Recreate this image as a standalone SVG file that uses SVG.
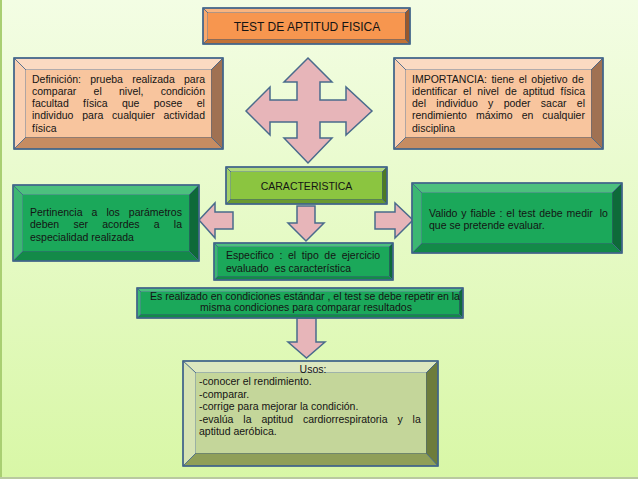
<svg xmlns="http://www.w3.org/2000/svg" width="638" height="479" viewBox="0 0 638 479">
<defs>
<linearGradient id="bg" x1="0" y1="0" x2="0" y2="1">
<stop offset="0" stop-color="#f3fde4"/>
<stop offset="1" stop-color="#d8f7a6"/>
</linearGradient>
</defs>
<style>
.o{stroke:#41648a;stroke-width:1.6;fill:none}
.b{stroke:#41648a;stroke-width:0.8}
.t{font-family:"Liberation Sans",Arial,sans-serif;font-size:10.5px;fill:#141414}
.arr{fill:#e7b5b9;stroke:#4a6b8c;stroke-width:1.5;stroke-linejoin:miter}
.or .f{fill:#f7964f}.or .tp{fill:#f9b47f}.or .lf{fill:#f8a86c}.or .rt{fill:#98582c}.or .bt{fill:#c27236}
.pe .f{fill:#f8c59e}.pe .tp{fill:#fbdac2}.pe .lf{fill:#fad0b2}.pe .rt{fill:#a07152}.pe .bt{fill:#c68c62}
.gr .f{fill:#1ba85a}.gr .tp{fill:#4cc07e}.gr .lf{fill:#3cb772}.gr .rt{fill:#0e6a39}.gr .bt{fill:#138a48}
.lg .f{fill:#8bc540}.lg .tp{fill:#b2d97c}.lg .lf{fill:#a3d166}.lg .rt{fill:#4e7a24}.lg .bt{fill:#6a9a30}
.ol .f{fill:#c4d69a}.ol .tp{fill:#dce7bf}.ol .lf{fill:#d6e3b4}.ol .rt{fill:#6d7c3c}.ol .bt{fill:#8f9f58}
</style>
<rect x="0" y="0" width="638" height="479" fill="url(#bg)"/>
<rect x="0" y="0" width="2" height="479" fill="#a9cf72"/>
<rect x="0" y="477" width="638" height="2" fill="#b9c9a0"/>

<g id="connectors">
<polygon class="arr" points="308,58 332,82 320,82 320,100 346,100 346,87 372,111 346,135 346,122 320,122 320,138 332,138 308,163 284,138 297,138 297,122 270,122 270,135 246,111 270,87 270,100 297,100 297,82 284,82"/>
<polygon class="arr" points="199,220 215,203 215,212 233,212 233,229 215,229 215,238"/>
<polygon class="arr" points="297,206 315,206 315,223 324,223 306,241 288,223 297,223"/>
<polygon class="arr" points="375,212 395,212 395,203 413,220 395,238 395,229 375,229"/>
<polygon class="arr" points="297,318 316,318 316,342 325,342 306.5,358 288,342 297,342"/>
</g>

<g id="title" class="or">
<polygon class="b tp" points="203,8 410,8 405,13 208,13"/>
<polygon class="b rt" points="410,8 410,44 405,39 405,13"/>
<polygon class="b bt" points="203,44 410,44 405,39 208,39"/>
<polygon class="b lf" points="203,8 208,13 208,39 203,44"/>
<rect class="f" x="208" y="13" width="197" height="26"/>
<rect class="o" x="203" y="8" width="207" height="36"/>
<text class="t" x="307" y="30.5" text-anchor="middle" style="font-size:12px">TEST DE APTITUD FISICA</text>
</g>

<g id="definicion" class="pe">
<polygon class="b tp" points="14,58 223,58 211,70 26,70"/>
<polygon class="b rt" points="223,58 223,149 211,137 211,70"/>
<polygon class="b bt" points="14,149 223,149 211,137 26,137"/>
<polygon class="b lf" points="14,58 26,70 26,137 14,149"/>
<rect class="f" x="26" y="70" width="185" height="67"/>
<rect class="o" x="14" y="58" width="209" height="91"/>
<text class="t" x="32" y="82.5" word-spacing="6.3">Definición: prueba realizada para</text>
<text class="t" x="32" y="94.8" word-spacing="14.3">comparar el nivel, condición</text>
<text class="t" x="32" y="107.1" word-spacing="11.4">facultad física que posee el</text>
<text class="t" x="32" y="119.4" word-spacing="5.9">individuo para cualquier actividad</text>
<text class="t" x="32" y="131.7">física</text>
</g>

<g id="importancia" class="pe">
<polygon class="b tp" points="394,58 603,58 591,70 406,70"/>
<polygon class="b rt" points="603,58 603,149 591,137 591,70"/>
<polygon class="b bt" points="394,149 603,149 591,137 406,137"/>
<polygon class="b lf" points="394,58 406,70 406,137 394,149"/>
<rect class="f" x="406" y="70" width="185" height="67"/>
<rect class="o" x="394" y="58" width="209" height="91"/>
<text class="t" x="412" y="82.5" word-spacing="1.6">IMPORTANCIA: tiene el objetivo de</text>
<text class="t" x="412" y="94.8" word-spacing="3.2">identificar el nivel de aptitud física</text>
<text class="t" x="412" y="107.1" word-spacing="7.4">del individuo y poder sacar el</text>
<text class="t" x="412" y="119.4" word-spacing="6.1">rendimiento máximo en cualquier</text>
<text class="t" x="412" y="131.7">disciplina</text>
</g>

<g id="caracteristica" class="lg">
<polygon class="b tp" points="226,167 387,167 382,172 231,172"/>
<polygon class="b rt" points="387,167 387,204 382,199 382,172"/>
<polygon class="b bt" points="226,204 387,204 382,199 231,199"/>
<polygon class="b lf" points="226,167 231,172 231,199 226,204"/>
<rect class="f" x="231" y="172" width="151" height="27"/>
<rect class="o" x="226" y="167" width="161" height="37"/>
<text class="t" x="306.5" y="189.5" text-anchor="middle">CARACTERISTICA</text>
</g>

<g id="pertinencia" class="gr">
<polygon class="b tp" points="13,185 199,185 189,195 23,195"/>
<polygon class="b rt" points="199,185 199,261 189,251 189,195"/>
<polygon class="b bt" points="13,261 199,261 189,251 23,251"/>
<polygon class="b lf" points="13,185 23,195 23,251 13,261"/>
<rect class="f" x="23" y="195" width="166" height="56"/>
<rect class="o" x="13" y="185" width="186" height="76"/>
<text class="t" x="30" y="215.5" word-spacing="6.1">Pertinencia a los parámetros</text>
<text class="t" x="30" y="228" word-spacing="11.3">deben ser acordes a la</text>
<text class="t" x="30" y="240.5">especialidad realizada</text>
</g>

<g id="valido" class="gr">
<polygon class="b tp" points="412,183 622,183 612,193 422,193"/>
<polygon class="b rt" points="622,183 622,253 612,243 612,193"/>
<polygon class="b bt" points="412,253 622,253 612,243 422,243"/>
<polygon class="b lf" points="412,183 422,193 422,243 412,253"/>
<rect class="f" x="422" y="193" width="190" height="50"/>
<rect class="o" x="412" y="183" width="210" height="70"/>
<text class="t" x="429" y="217" word-spacing="1">Valido y fiable : el test debe medir <tspan dx="3">lo</tspan></text>
<text class="t" x="429" y="229">que se pretende evaluar.</text>
</g>

<g id="especifico" class="gr">
<polygon class="b tp" points="214,243 393,243 389,247 218,247"/>
<polygon class="b rt" points="393,243 393,280 389,276 389,247"/>
<polygon class="b bt" points="214,280 393,280 389,276 218,276"/>
<polygon class="b lf" points="214,243 218,247 218,276 214,280"/>
<rect class="f" x="218" y="247" width="171" height="29"/>
<rect class="o" x="214" y="243" width="179" height="37"/>
<text class="t" x="226" y="258.8" word-spacing="2.7">Especifico : el tipo de ejercicio</text>
<text class="t" x="226" y="271.5">evaluado <tspan dx="3">es característica</tspan></text>
</g>

<g id="realizado" class="gr">
<polygon class="b tp" points="137,288 463,288 459,292 141,292"/>
<polygon class="b rt" points="463,288 463,318 459,314 459,292"/>
<polygon class="b bt" points="137,318 463,318 459,314 141,314"/>
<polygon class="b lf" points="137,288 141,292 141,314 137,318"/>
<rect class="f" x="141" y="292" width="318" height="22"/>
<rect class="o" x="137" y="288" width="326" height="30"/>
<text class="t" x="305" y="299.5" text-anchor="middle">Es realizado en condiciones estándar , el test se debe repetir en la</text>
<text class="t" x="306" y="310.5" text-anchor="middle">misma condiciones para comparar resultados</text>
</g>

<g id="usos" class="ol">
<polygon class="b tp" points="183,361 438,361 426,373 196,373"/>
<polygon class="b rt" points="438,361 438,466 426,453 426,373"/>
<polygon class="b bt" points="183,466 438,466 426,453 196,453"/>
<polygon class="b lf" points="183,361 196,373 196,453 183,466"/>
<rect class="f" x="196" y="373" width="230" height="80"/>
<rect class="o" x="183" y="361" width="255" height="105"/>
<text class="t" x="313" y="372.8" text-anchor="middle">Usos:</text>
<text class="t" x="199" y="385.3">-conocer el rendimiento.</text>
<text class="t" x="199" y="397.8">-comparar.</text>
<text class="t" x="199" y="410.3">-corrige para mejorar la condición.</text>
<text class="t" x="199" y="422.8" word-spacing="7">-evalúa la aptitud cardiorrespiratoria y la</text>
<text class="t" x="199" y="435.3">aptitud aeróbica.</text>
</g>
</svg>
